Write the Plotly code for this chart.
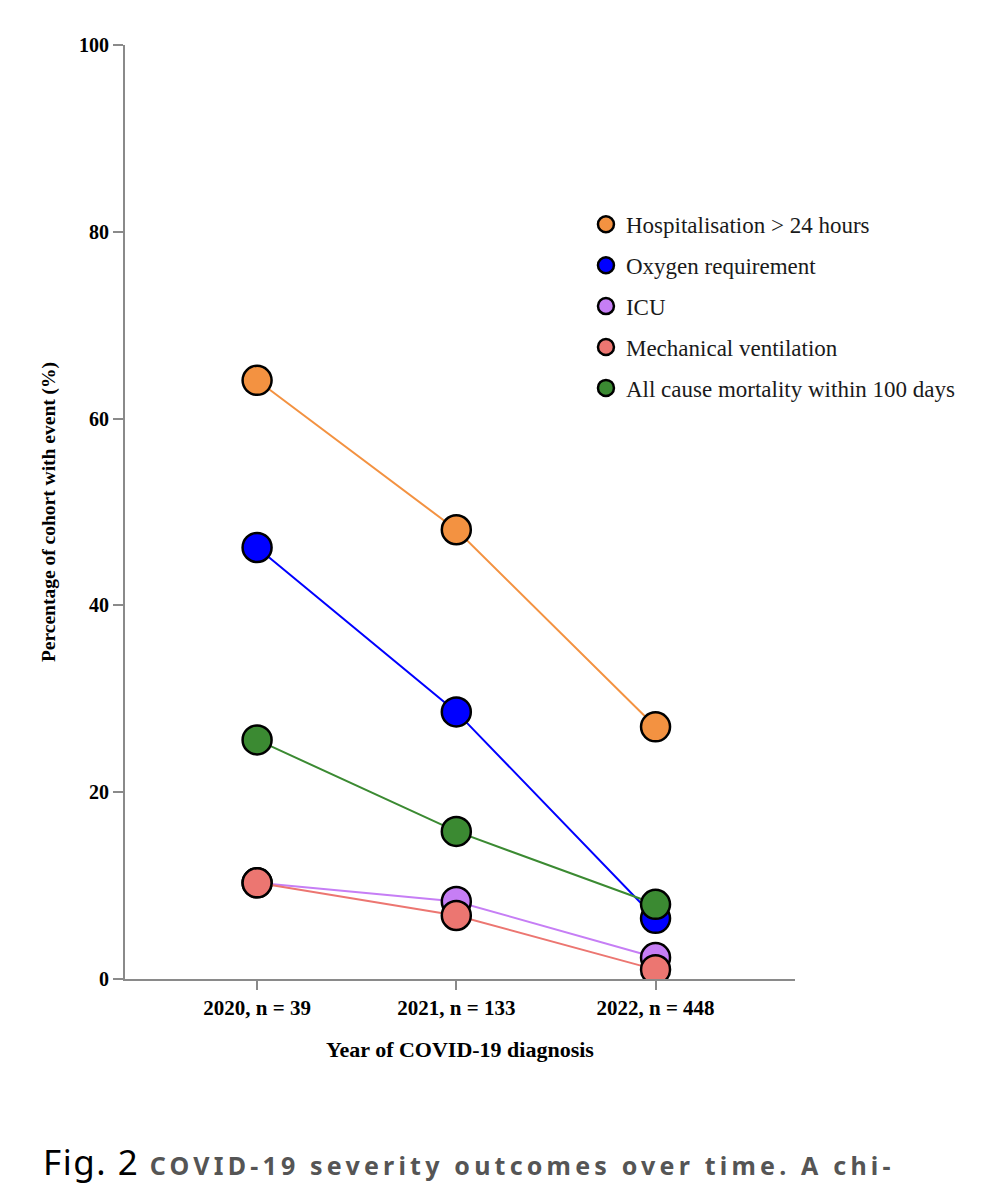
import plotly.graph_objects as go

years = ["2020, n = 39", "2021, n = 133", "2022, n = 448"]
series_names = [
    "Hospitalisation > 24 hours",
    "Oxygen requirement",
    "ICU",
    "Mechanical ventilation",
    "All cause mortality within 100 days",
]
hospitalisation = [64.1, 48.1, 27.0]
oxygen = [46.2, 28.6, 6.5]
icu = [10.3, 8.3, 2.3]
ventilation = [10.3, 6.8, 1.0]
mortality = [25.6, 15.8, 8.0]
colors = ["#F39241", "#0000FF", "#C67EF5", "#EC7671", "#3B8A32"]

values = [hospitalisation, oxygen, icu, ventilation, mortality]
xpos = list(range(len(years)))

fig = go.Figure()
for name, vals, col in zip(series_names, values, colors):
    # line + markers, legend entry drawn from a marker-only copy so it has no line
    fig.add_trace(go.Scatter(
        x=xpos, y=vals, name=name, mode="lines+markers",
        line=dict(color=col, width=2),
        marker=dict(color=col, size=29, line=dict(color="black", width=2.5)),
        legendgroup=name, showlegend=False,
    ))
    fig.add_trace(go.Scatter(
        x=[None], y=[None], name=name, mode="markers",
        marker=dict(color=col, size=29, line=dict(color="black", width=2.5)),
        legendgroup=name,
    ))

fig.update_layout(
    width=1007, height=1200,
    margin=dict(l=117, r=220, t=37, b=229),
    paper_bgcolor="white", plot_bgcolor="white",
    font=dict(family="Liberation Serif", color="black"),
    showlegend=True,
    legend=dict(x=0.688, y=0.831, xanchor="left", yanchor="top",
                font=dict(family="Liberation Serif", size=23, color="#1a1a1a"),
                tracegroupgap=8, itemsizing="trace", bgcolor="rgba(0,0,0,0)"),
    xaxis=dict(
        range=[-0.663, 2.70], tickvals=xpos, ticktext=["<b>%s</b>" % y for y in years],
        showgrid=False, zeroline=False, showline=True, linecolor="#8a8a8a", linewidth=2,
        ticks="outside", ticklen=9, tickcolor="#8a8a8a", tickwidth=2,
        tickfont=dict(family="Liberation Serif", size=21, color="black"),
        title=dict(text="<b>Year of COVID-19 diagnosis</b>", font=dict(size=22), standoff=22),
    ),
    yaxis=dict(
        range=[0, 100], tickvals=[0, 20, 40, 60, 80, 100],
        ticktext=["<b>%d</b>" % v for v in [0, 20, 40, 60, 80, 100]],
        showgrid=False, zeroline=False, showline=True, linecolor="#8a8a8a", linewidth=2,
        ticks="outside", ticklen=10, tickcolor="#8a8a8a", tickwidth=2,
        tickfont=dict(family="Liberation Serif", size=20, color="black"),
        title=dict(text="<b>Percentage of cohort with event (%)</b>", font=dict(size=19.5), standoff=18),
    ),
)

fig.add_annotation(
    xref="paper", yref="paper", x=-0.126, y=-0.195, xanchor="left", yanchor="middle",
    showarrow=False,
    text="<span style='font-size:35px;color:#000;letter-spacing:1.5px'>Fig. 2&nbsp;</span>"
         "<b><span style='font-size:25px;color:#555;letter-spacing:4.2px'>COVID-19 severity outcomes over time. A chi-</span></b>",
    font=dict(family="Noto Sans"),
)

fig.write_html("out.html")
